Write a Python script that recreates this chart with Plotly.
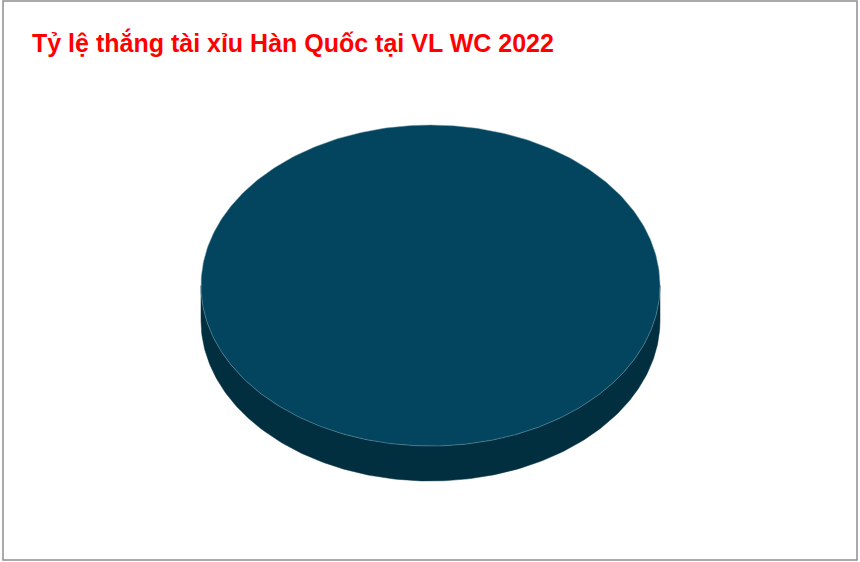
"""Excel-style 3D pie: share of over/under wins, South Korea, WC 2022 qualifiers."""

import numpy as np
import plotly.graph_objects as go

# data
LABELS = ["Tài"]
VALUES = [100]
TITLE = "Tỷ lệ thắng tài xỉu Hàn Quốc tại VL WC 2022"

# style
_TOP = ["#03455E"]
_SIDE = ["#022F40"]
_EDGE = "rgba(120, 160, 180, 0.6)"
_RED = "#FF0000"
_BORDER = "#8E8E8E"

W, H = 860, 562
CX, CY, RX, RY, DEPTH = 430.5, 285.5, 229.5, 160.5, 35


def _arc(a0, a1, dy=0.0, n=200):
    t = np.linspace(a0, a1, n)
    # angle measured clockwise from 12 o'clock, screen y grows downward
    return CX + RX * np.sin(t), CY + dy - RY * np.cos(t)


def _slices():
    total = float(sum(VALUES))
    start = 0.0
    out = []
    for lab, v in zip(LABELS, VALUES):
        a0 = start
        a1 = start + 2 * np.pi * v / total
        out.append((lab, v, a0, a1))
        start = a1
    return out


fig = go.Figure()
slices = _slices()

# side walls first (only the front half, pi/2 .. 3pi/2, is visible)
for i, (lab, v, a0, a1) in enumerate(slices):
    s0, s1 = max(a0, np.pi / 2), min(a1, 3 * np.pi / 2)
    if s1 <= s0:
        continue
    tx, ty = _arc(s0, s1)
    bx, by = _arc(s1, s0, dy=DEPTH)
    fig.add_trace(go.Scatter(
        x=np.concatenate([tx, bx, tx[:1]]),
        y=np.concatenate([ty, by, ty[:1]]),
        mode="lines", fill="toself",
        fillcolor=_SIDE[i % len(_SIDE)],
        line=dict(color=_SIDE[i % len(_SIDE)], width=0.5),
        hoverinfo="skip", showlegend=False,
    ))

# top faces
for i, (lab, v, a0, a1) in enumerate(slices):
    tx, ty = _arc(a0, a1, n=400)
    if a1 - a0 < 2 * np.pi - 1e-9:
        tx = np.concatenate([[CX], tx, [CX]])
        ty = np.concatenate([[CY], ty, [CY]])
    fig.add_trace(go.Scatter(
        x=tx, y=ty, mode="lines", fill="toself",
        fillcolor=_TOP[i % len(_TOP)],
        line=dict(color=_EDGE, width=0.8),
        name=lab,
        hovertemplate=f"{lab}: {v}%<extra></extra>",
        showlegend=False,
    ))

fig.update_layout(
    width=W, height=H,
    margin=dict(l=0, r=0, t=0, b=0),
    paper_bgcolor="white",
    plot_bgcolor="white",
    xaxis=dict(range=[0, W], visible=False, fixedrange=True),
    yaxis=dict(range=[H, 0], visible=False, fixedrange=True),
    shapes=[dict(
        type="rect", xref="x", yref="y",
        x0=3, x1=857, y0=1, y1=560,
        line=dict(color=_BORDER, width=1.5),
    )],
    annotations=[dict(
        text=f"<b>{TITLE}</b>",
        xref="x", yref="y", x=30, y=42,
        xanchor="left", yanchor="middle",
        showarrow=False,
        font=dict(family="Liberation Sans, Arial, sans-serif", size=25, color=_RED),
    )],
)

# the page is photographed edge to edge, so drop the default body margin
fig.write_html(
    "out.html",
    config={"displayModeBar": False},
    post_script="document.body.style.margin='0';",
)
